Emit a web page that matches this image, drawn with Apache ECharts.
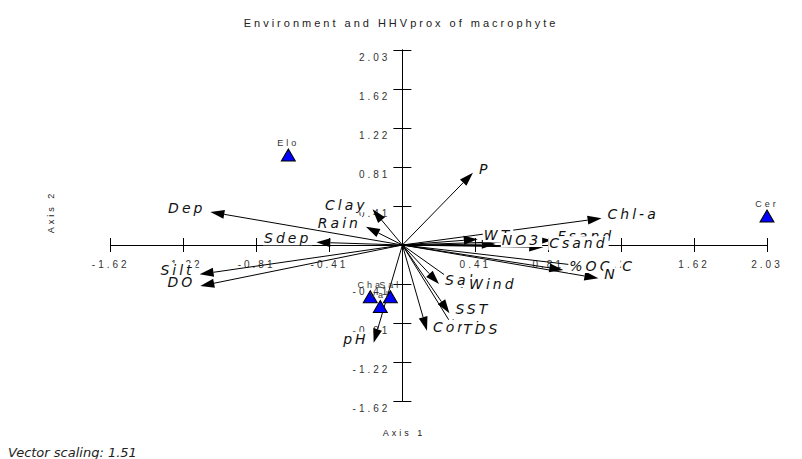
<!DOCTYPE html>
<html>
<head>
<meta charset="utf-8">
<script src="https://cdn.jsdelivr.net/npm/echarts@6/dist/echarts.min.js"></script>
<style>
  html, body { margin: 0; padding: 0; background: #fff; }
  #main { width: 802px; height: 459px; }
  /* PC-ORD prints its text widely spaced */
  #main text { letter-spacing: 3px; }
  #main text[style*="13px"] { letter-spacing: 0; }
</style>
</head>
<body>
<div id="main"></div>
<script>
// environmental vectors (arrow tips, axis units)
const vectorNames = ['Dep', 'Sdep', 'Rain', 'Clay', 'Silt', 'DO', 'P', 'Chl-a', 'WT', 'NO3',
  'Fsand', 'Csand', '%OC', 'N', 'C', 'Sal', 'Wind', 'SST', 'Cond', 'TDS', 'pH'];
const vectorX = [-1.069, -0.479, -0.203, -0.166, -1.129, -1.125, 0.393, 1.109, 0.42, 0.52,
  0.83, 0.784, 0.896, 1.091, 1.19, 0.204, 0.338, 0.262, 0.137, 0.305, -0.16];
const vectorY = [0.344, 0.028, 0.19, 0.372, -0.305, -0.427, 0.753, 0.278, 0.06, 0.01,
  0.05, -0.024, -0.26, -0.347, -0.26, -0.406, -0.448, -0.711, -0.893, -0.92, -1.018];

// species scores
const speciesNames = ['Elo', 'Cer', 'Cha', 'Sal', 'Val'];
const speciesX = [-0.635, 2.03, -0.179, -0.067, -0.123];
const speciesY = [0.9375, 0.302, -0.538, -0.538, -0.64];

// axis range, ticks every 0.406
const axisMin = -1.624;
const axisMax = 2.03;
const axisStep = 0.406;

const gridLeft = 110.7;
const gridTop = 50;
const gridW = 656.3;
const gridH = 351;
const spacing = 3;

const tickFont = 'Liberation Sans';
const fmt = (v) => (Math.abs(v) < 1e-9 ? '' : v.toFixed(2));

// axes cross at the origin: shift them in with a negative offset
const zeroFromLeft = (0 - axisMin) / (axisMax - axisMin) * gridW;
const zeroFromBottom = (0 - axisMin) / (axisMax - axisMin) * gridH;

const chart = echarts.init(document.getElementById('main'), null, { renderer: 'svg' });

const baseX = {
  type: 'value', min: axisMin, max: axisMax, interval: axisStep, position: 'bottom',
  offset: -zeroFromBottom,
  axisLine: { onZero: false, lineStyle: { color: '#000', width: 1 } },
  axisTick: { length: 7, lineStyle: { color: '#000' } },
  splitLine: { show: false },
  axisLabel: {
    margin: 14, formatter: fmt, fontFamily: tickFont, fontSize: 10, color: '#333',
    showMinLabel: true, showMaxLabel: true, hideOverlap: false,
  },
};
const baseY = {
  type: 'value', min: axisMin, max: axisMax, interval: axisStep, position: 'left',
  offset: -zeroFromLeft,
  axisLine: { onZero: false, lineStyle: { color: '#000', width: 1 } },
  axisTick: { length: 9, lineStyle: { color: '#000' } },
  splitLine: { show: false },
  axisLabel: {
    margin: 12, formatter: fmt, fontFamily: tickFont, fontSize: 10, color: '#333',
    verticalAlign: 'top', lineHeight: 10, padding: [2, 0, 0, 0],
    showMinLabel: true, showMaxLabel: true, hideOverlap: false,
  },
};

const tipOf = (api) => {
  const o = api.coord([0, 0]);
  const t = api.coord([api.value(0), api.value(1)]);
  return [o, t];
};

const option = {
  animation: false,
  backgroundColor: '#fff',
  title: {
    text: 'Environment and HHVprox of macrophyte',
    left: 'center',
    top: 12,
    textStyle: { fontFamily: tickFont, fontSize: 11, fontWeight: 'normal', color: '#222' },
  },
  grid: { left: gridLeft, top: gridTop, width: gridW, height: gridH },
  xAxis: [
    baseX,
    Object.assign({}, baseX, { axisTick: { inside: true, length: 7, lineStyle: { color: '#000' } }, axisLabel: { show: false } }),
  ],
  yAxis: [
    baseY,
    Object.assign({}, baseY, { axisTick: { inside: true, length: 9, lineStyle: { color: '#000' } }, axisLabel: { show: false } }),
  ],
  graphic: [
    {
      type: 'text', x: 404, y: 433,
      style: { text: 'Axis 1', align: 'center', verticalAlign: 'middle', font: '9px "Liberation Sans"', fill: '#222' },
    },
    {
      type: 'text', x: 51, y: 212, rotation: Math.PI / 2,
      style: { text: 'Axis 2', align: 'center', verticalAlign: 'middle', font: '9px "Liberation Sans"', fill: '#222' },
    },
    {
      type: 'text', x: 8, y: 452,
      style: { text: 'Vector scaling: 1.51', align: 'left', verticalAlign: 'middle', font: 'italic 13px "DejaVu Sans"', fill: '#222' },
    },
  ],
  series: [
    {
      // arrows
      type: 'custom',
      z: 3,
      data: vectorX.map((x, i) => [x, vectorY[i]]),
      renderItem(params, api) {
        const [o, t] = tipOf(api);
        const dx = t[0] - o[0];
        const dy = t[1] - o[1];
        const len = Math.hypot(dx, dy);
        const ux = dx / len;
        const uy = dy / len;
        const hl = 14;
        const hw = 4.5;
        const bx = t[0] - ux * hl;
        const by = t[1] - uy * hl;
        return {
          type: 'group',
          children: [
            { type: 'line', shape: { x1: o[0], y1: o[1], x2: bx, y2: by }, style: { stroke: '#000', lineWidth: 1 } },
            {
              type: 'polygon',
              shape: { points: [t, [bx - uy * hw, by + ux * hw], [bx + uy * hw, by - ux * hw]] },
              style: { fill: '#000' },
            },
          ],
        };
      },
    },
    {
      // vector labels, white boxes over lines and axes
      type: 'custom',
      z: 4,
      data: vectorX.map((x, i) => [x, vectorY[i]]),
      renderItem(params, api) {
        const [, t] = tipOf(api);
        const right = api.value(0) >= 0;
        const name = vectorNames[params.dataIndex];
        const extra = name.length * spacing;
        return {
          type: 'text',
          x: t[0] + (right ? 5 : -4),
          y: t[1] - 4,
          style: {
            text: name,
            align: right ? 'left' : 'right',
            verticalAlign: 'middle',
            font: 'italic 14px "DejaVu Sans"',
            fill: '#111',
            backgroundColor: '#fff',
            padding: right ? [0, 1 + extra, 0, 1] : [0, 1, 0, 1 + extra],
          },
        };
      },
    },
    {
      type: 'scatter',
      z: 5,
      clip: false,
      data: speciesX.map((x, i) => [x, speciesY[i], speciesNames[i]]),
      symbol: 'triangle',
      symbolSize: [14, 12],
      itemStyle: { color: '#0000ff', borderColor: '#000', borderWidth: 1, opacity: 1 },
      label: {
        show: true, position: 'top', distance: 1,
        formatter: (p) => p.data[2],
        fontFamily: tickFont, fontSize: 9, color: '#333',
      },
    },
  ],
};

chart.setOption(option);
</script>
</body>
</html>
